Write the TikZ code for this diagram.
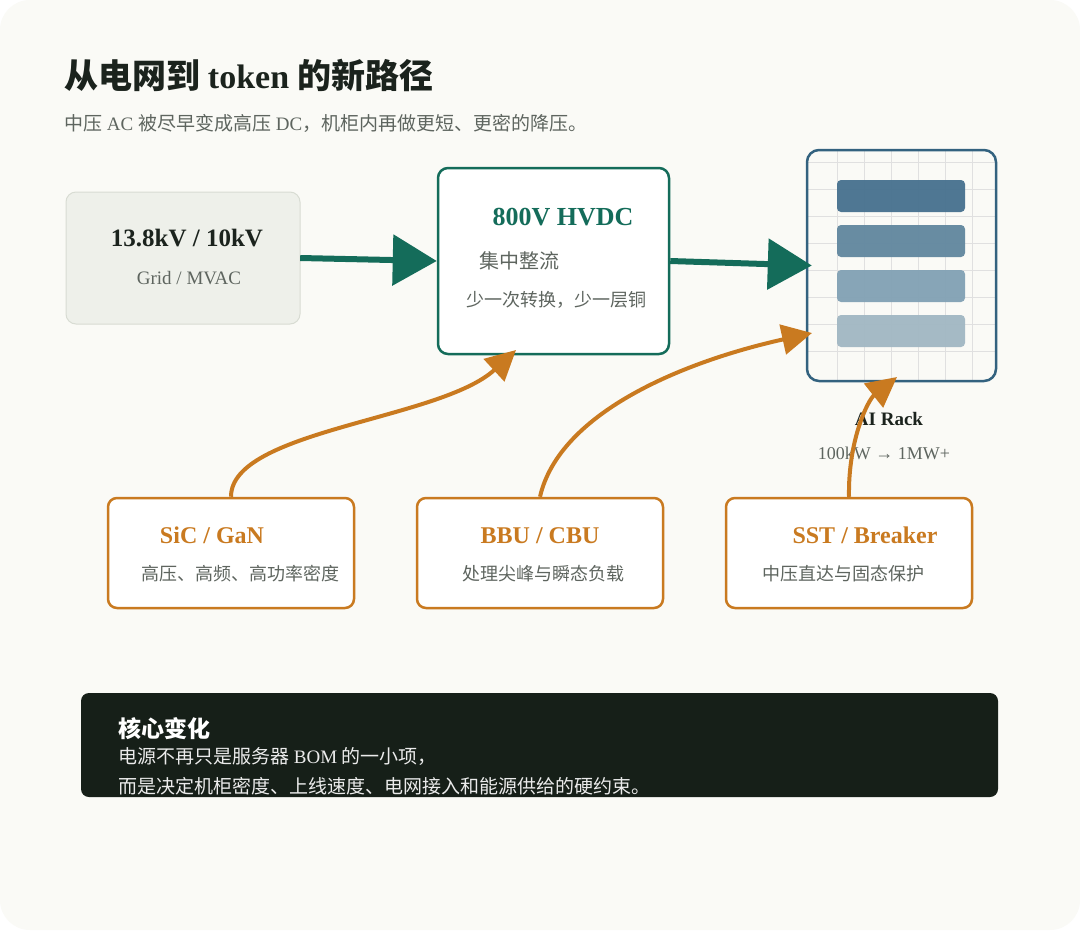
\documentclass[tikz,border=0pt]{standalone}
\usepackage{fontspec}
\setmainfont{Liberation Serif}
\newfontfamily\cjk{Noto Sans CJK SC}
\usetikzlibrary{arrows.meta}
\definecolor{bgc}{HTML}{FAFAF6}
\definecolor{gridc}{HTML}{EEF0EA}
\definecolor{gridb}{HTML}{D8DCD3}
\definecolor{ink}{HTML}{1B231D}
\definecolor{greyt}{HTML}{5E655F}
\definecolor{teal}{HTML}{146C5A}
\definecolor{org}{HTML}{C97A20}
\definecolor{rackb}{HTML}{33627F}
\definecolor{darkb}{HTML}{161F18}
\definecolor{bar1}{HTML}{4A7390}
\definecolor{bar2}{HTML}{6489A0}
\definecolor{bar3}{HTML}{84A3B5}
\definecolor{bar4}{HTML}{A3B8C4}
\begin{document}
\begin{tikzpicture}[x=1pt,y=-1pt,
  txt/.style={inner sep=0pt,anchor=base},
  obox/.style={draw=org,line width=2.5pt,fill=white,rounded corners=9pt},
  otitle/.style={txt,font=\bfseries\fontsize{24}{28}\selectfont,text=org},
  osub/.style={txt,font=\fontsize{18}{22}\selectfont,text=greyt},
  oarr/.style={draw=org,line width=4pt,-{Triangle[length=30pt,width=30pt]}},
  tarr/.style={draw=teal,line width=6pt,-{Triangle[length=44pt,width=50pt]}}]
\useasboundingbox (0,0) rectangle (1080,930);
\fill[white] (0,0) rectangle (1080,930);
\fill[bgc,rounded corners=30pt] (0,0) rectangle (1080,930);
\node[txt,anchor=base west,font=\bfseries\fontsize{34}{40}\selectfont,text=ink] (title) at (64,88) {\cjk 从电网到 \normalfont\bfseries token \cjk 的新路径};
\node[txt,anchor=base west,font=\fontsize{19}{23}\selectfont,text=greyt] (sub) at (64,130) {\cjk 中压\normalfont{} AC \cjk 被尽早变成高压\normalfont{} DC\cjk ，机柜内再做更短、更密的降压。};
% grid box
\draw[draw=gridb,fill=gridc,line width=1pt,rounded corners=10pt] (66,192) rectangle (300,324);
\node (grid) at (183,258) [minimum width=234pt,minimum height=132pt] {};
\node[txt,font=\bfseries\fontsize{25}{30}\selectfont,text=ink] (g1) at (187,246) {13.8kV / 10kV};
\node[txt,font=\fontsize{19}{23}\selectfont,text=greyt] (g2) at (189,284) {Grid / MVAC};
% hvdc
\node[draw=teal,line width=2.5pt,fill=white,rounded corners=10pt,minimum width=231pt,minimum height=186pt] (hv) at (553.5,261) {};
\node[txt,font=\bfseries\fontsize{26}{30}\selectfont,text=teal] (h1) at (563,225) {800V HVDC};
\node[txt,font=\cjk\fontsize{20}{24}\selectfont,text=greyt] (h2) at (519,268) {集中整流};
\node[txt,font=\cjk\fontsize{18}{22}\selectfont,text=greyt] (h3) at (556,306) {少一次转换，少一层铜};
% rack
\node[minimum width=189pt,minimum height=231pt,inner sep=0pt] (rack) at (901.5,265.5) {};
\begin{scope}
\clip[rounded corners=12pt] (807,150) rectangle (996,381);
\foreach \x in {837,864,891,918,945,972} \draw[black!12,line width=0.8pt] (\x,150) -- (\x,381);
\foreach \y in {162,189,216,243,270,297,324,351} \draw[black!12,line width=0.8pt] (807,\y) -- (996,\y);
\end{scope}
\fill[bar1,opacity=0.97,rounded corners=4pt] (837,180) rectangle (965,212);
\fill[bar2,opacity=0.97,rounded corners=4pt] (837,225) rectangle (965,257);
\fill[bar3,opacity=0.97,rounded corners=4pt] (837,270) rectangle (965,302);
\fill[bar4,opacity=0.97,rounded corners=4pt] (837,315) rectangle (965,347);
\draw[rackb,line width=2.5pt,rounded corners=12pt] (807,150) rectangle (996,381);
\node[txt,font=\bfseries\fontsize{19}{23}\selectfont,text=ink] (r1) at (889,425) {AI Rack};
\node[txt,font=\fontsize{18}{22}\selectfont,text=greyt] (r2) at (884,459) {100kW \textrightarrow{} 1MW+};
% teal arrows
\draw[tarr] (grid.east) -- (hv.west);
\draw[tarr] (hv.east) -- ([xshift=5pt]rack.west);
% orange boxes
\node[obox,minimum width=246pt,minimum height=110pt] (b1) at (231,553) {};
\node[obox,minimum width=246pt,minimum height=110pt] (b2) at (540,553) {};
\node[obox,minimum width=246pt,minimum height=110pt] (b3) at (849,553) {};
\node[otitle] (t1) at (212,543) {SiC / GaN};
\node[otitle] (t2) at (540,543) {BBU / CBU};
\node[otitle] (t3) at (865,543) {SST / Breaker};
\node[osub,font=\cjk\fontsize{18}{22}\selectfont] (s1) at (240,580) {高压、高频、高功率密度};
\node[osub,font=\cjk\fontsize{18}{22}\selectfont] (s2) at (543,580) {处理尖峰与瞬态负载};
\node[osub,font=\cjk\fontsize{18}{22}\selectfont] (s3) at (843,580) {中压直达与固态保护};
\coordinate (e1) at (516,350);
\coordinate (e2) at (812,333);
\coordinate (e3) at (897,377);
\draw[oarr] (b1.north) .. controls (231,430) and (440,420) .. (e1);
\draw[oarr] (b2.north) .. controls (560,410) and (690,360) .. (e2);
\draw[oarr] (b3.north) .. controls (848,440) and (868,400) .. (e3);
% dark box
\node[fill=darkb,rounded corners=8pt,minimum width=917pt,minimum height=104pt] (dk) at (539.5,745) {};
\node[txt,anchor=base west,font=\cjk\bfseries\fontsize{23}{27}\selectfont,text=white] (k1) at (118,737) {核心变化};
\node[txt,anchor=base west,font=\fontsize{19}{23}\selectfont,text=black!8] (k2) at (118,763) {\cjk 电源不再只是服务器\normalfont{} BOM \cjk 的一小项，};
\node[txt,anchor=base west,font=\cjk\fontsize{19}{23}\selectfont,text=black!8] (k3) at (118,793) {而是决定机柜密度、上线速度、电网接入和能源供给的硬约束。};
\end{tikzpicture}
\end{document}
